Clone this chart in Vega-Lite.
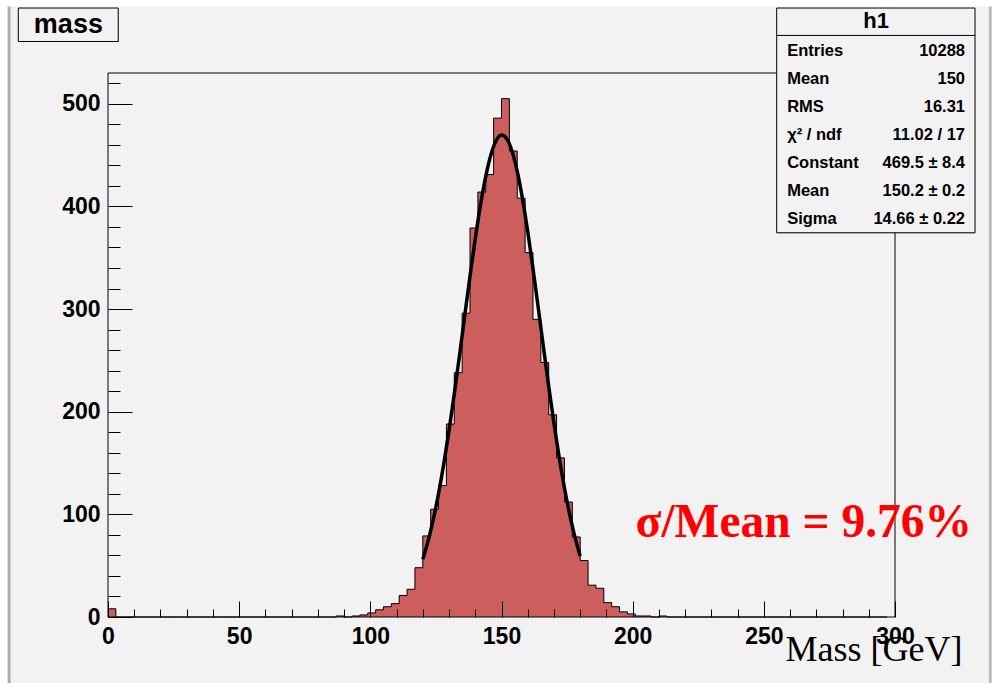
{
  "$schema": "https://vega.github.io/schema/vega-lite/v6.json",
  "width": 787,
  "height": 544,
  "autosize": {"type": "none"},
  "padding": {"left": 108, "top": 73, "right": 101, "bottom": 66},
  "background": "#ffffff",
  "config": {
    "view": {"stroke": null, "fill": null},
    "font": "Liberation Sans",
    "axis": {
      "grid": false,
      "domain": false,
      "labelFont": "Liberation Sans",
      "labelFontWeight": "bold",
      "labelFontSize": 23,
      "labelColor": "#000000",
      "labelFlush": false,
      "labelOverlap": false,
      "tickColor": "#000000",
      "tickWidth": 1
    }
  },
  "datasets": {
    "hist": [
      {"mass": 0, "entries": 8}, {"mass": 3, "entries": 0}, {"mass": 6, "entries": 0}, {"mass": 9, "entries": 0},
      {"mass": 12, "entries": 0}, {"mass": 15, "entries": 0}, {"mass": 18, "entries": 0}, {"mass": 21, "entries": 0},
      {"mass": 24, "entries": 0}, {"mass": 27, "entries": 0}, {"mass": 30, "entries": 0}, {"mass": 33, "entries": 0},
      {"mass": 36, "entries": 0}, {"mass": 39, "entries": 0}, {"mass": 42, "entries": 0}, {"mass": 45, "entries": 0},
      {"mass": 48, "entries": 0}, {"mass": 51, "entries": 0}, {"mass": 54, "entries": 0}, {"mass": 57, "entries": 0},
      {"mass": 60, "entries": 0}, {"mass": 63, "entries": 0}, {"mass": 66, "entries": 0}, {"mass": 69, "entries": 0},
      {"mass": 72, "entries": 0}, {"mass": 75, "entries": 0}, {"mass": 78, "entries": 0}, {"mass": 81, "entries": 0},
      {"mass": 84, "entries": 0}, {"mass": 87, "entries": 1}, {"mass": 90, "entries": 0}, {"mass": 93, "entries": 1},
      {"mass": 96, "entries": 2}, {"mass": 99, "entries": 4}, {"mass": 102, "entries": 7}, {"mass": 105, "entries": 10},
      {"mass": 108, "entries": 13}, {"mass": 111, "entries": 21}, {"mass": 114, "entries": 27}, {"mass": 117, "entries": 48},
      {"mass": 120, "entries": 79}, {"mass": 123, "entries": 105}, {"mass": 126, "entries": 128}, {"mass": 129, "entries": 188},
      {"mass": 132, "entries": 238}, {"mass": 135, "entries": 296}, {"mass": 138, "entries": 379}, {"mass": 141, "entries": 414},
      {"mass": 144, "entries": 431}, {"mass": 147, "entries": 486}, {"mass": 150, "entries": 505}, {"mass": 153, "entries": 454},
      {"mass": 156, "entries": 408}, {"mass": 159, "entries": 355}, {"mass": 162, "entries": 290}, {"mass": 165, "entries": 248},
      {"mass": 168, "entries": 197}, {"mass": 171, "entries": 155}, {"mass": 174, "entries": 112}, {"mass": 177, "entries": 78},
      {"mass": 180, "entries": 55}, {"mass": 183, "entries": 31}, {"mass": 186, "entries": 28}, {"mass": 189, "entries": 14},
      {"mass": 192, "entries": 10}, {"mass": 195, "entries": 5}, {"mass": 198, "entries": 3}, {"mass": 201, "entries": 1},
      {"mass": 204, "entries": 1}, {"mass": 207, "entries": 0}, {"mass": 210, "entries": 1}, {"mass": 213, "entries": 0},
      {"mass": 216, "entries": 0}, {"mass": 219, "entries": 0}, {"mass": 222, "entries": 0}, {"mass": 225, "entries": 0},
      {"mass": 228, "entries": 0}, {"mass": 231, "entries": 0}, {"mass": 234, "entries": 0}, {"mass": 237, "entries": 0},
      {"mass": 240, "entries": 0}, {"mass": 243, "entries": 0}, {"mass": 246, "entries": 0}, {"mass": 249, "entries": 0},
      {"mass": 252, "entries": 0}, {"mass": 255, "entries": 0}, {"mass": 258, "entries": 0}, {"mass": 261, "entries": 0},
      {"mass": 264, "entries": 0}, {"mass": 267, "entries": 0}, {"mass": 270, "entries": 0}, {"mass": 273, "entries": 0},
      {"mass": 276, "entries": 0}, {"mass": 279, "entries": 0}, {"mass": 282, "entries": 0}, {"mass": 285, "entries": 0},
      {"mass": 288, "entries": 0}, {"mass": 291, "entries": 0}, {"mass": 294, "entries": 0}, {"mass": 297, "entries": 0}
    ],
    "fit": [
      {"mass": 120, "gaus": 56.2}, {"mass": 122, "gaus": 73.8}, {"mass": 124, "gaus": 95.1}, {"mass": 126, "gaus": 120.2},
      {"mass": 128, "gaus": 149.2}, {"mass": 130, "gaus": 181.7}, {"mass": 132, "gaus": 217.3}, {"mass": 134, "gaus": 255.0},
      {"mass": 136, "gaus": 293.7}, {"mass": 138, "gaus": 332.1}, {"mass": 140, "gaus": 368.6}, {"mass": 142, "gaus": 401.5},
      {"mass": 144, "gaus": 429.3}, {"mass": 146, "gaus": 450.6}, {"mass": 148, "gaus": 464.2}, {"mass": 150, "gaus": 469.5},
      {"mass": 152, "gaus": 466.0}, {"mass": 154, "gaus": 454.0}, {"mass": 156, "gaus": 434.2}, {"mass": 158, "gaus": 407.5},
      {"mass": 160, "gaus": 375.5}, {"mass": 162, "gaus": 339.6}, {"mass": 164, "gaus": 301.4}, {"mass": 166, "gaus": 262.7},
      {"mass": 168, "gaus": 224.6}, {"mass": 170, "gaus": 188.6}, {"mass": 172, "gaus": 155.4}, {"mass": 174, "gaus": 125.7},
      {"mass": 176, "gaus": 99.8}, {"mass": 178, "gaus": 77.8}, {"mass": 180, "gaus": 59.5}
    ],
    "one": [{}]
  },
  "resolve": {"axis": {"x": "independent", "y": "independent"}},
  "layer": [
    {
      "data": {"name": "one"},
      "mark": {"type": "rect", "fill": "#f2f2f2"},
      "encoding": {
        "x": {"datum": -37.1, "type": "quantitative", "scale": {"domain": [0, 300], "nice": false, "zero": false}, "axis": null},
        "x2": {"datum": 335.5},
        "y": {"datum": 594.8, "type": "quantitative", "scale": {"domain": [0, 530], "nice": false, "zero": false}, "axis": null},
        "y2": {"datum": -71}
      }
    },
    {
      "data": {"name": "one"},
      "mark": {"type": "rule", "stroke": "#acacac", "strokeWidth": 3},
      "encoding": {
        "x": {"datum": -37.7, "type": "quantitative", "axis": null},
        "y": {"datum": 594.8, "type": "quantitative", "axis": null},
        "y2": {"datum": -71}
      }
    },
    {
      "data": {"name": "one"},
      "mark": {"type": "rule", "stroke": "#b8b8b8", "strokeWidth": 3},
      "encoding": {
        "x": {"datum": 336.3, "type": "quantitative", "axis": null},
        "y": {"datum": 594.8, "type": "quantitative", "axis": null},
        "y2": {"datum": -71}
      }
    },
    {
      "data": {"name": "hist"},
      "mark": {"type": "area", "interpolate": "step-after", "fill": "#cd5e5e", "opacity": 1},
      "encoding": {
        "x": {
          "field": "mass", "type": "quantitative",
          "scale": {"domain": [0, 300], "nice": false, "zero": false},
          "axis": {
            "orient": "bottom",
            "zindex": 2,
            "values": [0, 50, 100, 150, 200, 250, 300],
            "tickSize": -16,
            "labelPadding": 24,
            "title": "Mass [GeV]",
            "titleFont": "Liberation Serif",
            "titleFontWeight": "normal",
            "titleFontSize": 36,
            "titleColor": "#000000",
            "titleAlign": "right",
            "titleBaseline": "alphabetic",
            "titleX": 854,
            "titleY": 43
          }
        },
        "y": {
          "field": "entries", "type": "quantitative",
          "scale": {"domain": [0, 530], "nice": false, "zero": false},
          "axis": {
            "orient": "left",
            "zindex": 2,
            "values": [0, 100, 200, 300, 400, 500],
            "tickSize": -24,
            "labelPadding": 32,
            "title": null
          }
        }
      }
    },
    {
      "data": {"name": "hist"},
      "mark": {"type": "line", "interpolate": "step-after", "stroke": "#000000", "strokeWidth": 1},
      "encoding": {
        "x": {
          "field": "mass", "type": "quantitative",
          "axis": {
            "orient": "bottom",
            "zindex": 2,
            "values": [10, 20, 30, 40, 60, 70, 80, 90, 110, 120, 130, 140, 160, 170, 180, 190, 210, 220, 230, 240, 260, 270, 280, 290],
            "tickSize": -8,
            "labels": false,
            "title": null
          }
        },
        "y": {
          "field": "entries", "type": "quantitative",
          "axis": {
            "orient": "left",
            "zindex": 2,
            "values": [20, 40, 60, 80, 120, 140, 160, 180, 220, 240, 260, 280, 320, 340, 360, 380, 420, 440, 460, 480, 520],
            "tickSize": -12,
            "labels": false,
            "title": null
          }
        }
      }
    },
    {
      "data": {"name": "fit"},
      "mark": {"type": "line", "interpolate": "monotone", "stroke": "#000000", "strokeWidth": 3.5},
      "encoding": {
        "x": {"field": "mass", "type": "quantitative", "axis": null},
        "y": {"field": "gaus", "type": "quantitative", "axis": null}
      }
    },
    {
      "data": {"name": "one"},
      "mark": {"type": "rect", "fill": null, "stroke": "#000000", "strokeWidth": 1},
      "encoding": {
        "x": {"datum": 0, "type": "quantitative", "axis": null},
        "x2": {"datum": 300},
        "y": {"datum": 530, "type": "quantitative", "axis": null},
        "y2": {"datum": 0}
      }
    },
    {
      "data": {"name": "one"},
      "mark": {"type": "rect", "fill": "#000000", "xOffset": 2, "yOffset": 2},
      "encoding": {
        "x": {"datum": -34.2, "type": "quantitative", "axis": null},
        "x2": {"datum": 3.9},
        "y": {"datum": 593.3, "type": "quantitative", "axis": null},
        "y2": {"datum": 560.7}
      }
    },
    {
      "data": {"name": "one"},
      "mark": {"type": "rect", "fill": "#f2f2f2", "stroke": "#000000", "strokeWidth": 1},
      "encoding": {
        "x": {"datum": -34.2, "type": "quantitative", "axis": null},
        "x2": {"datum": 3.9},
        "y": {"datum": 593.3, "type": "quantitative", "axis": null},
        "y2": {"datum": 560.7}
      }
    },
    {
      "data": {"name": "one"},
      "mark": {"type": "text", "text": "mass", "font": "Liberation Sans", "fontWeight": "bold", "fontSize": 27, "align": "center", "baseline": "alphabetic", "color": "#000000"},
      "encoding": {
        "x": {"datum": -15.1, "type": "quantitative", "axis": null},
        "y": {"datum": 568.7, "type": "quantitative", "axis": null}
      }
    },
    {
      "data": {"name": "one"},
      "mark": {"type": "rect", "fill": "#000000", "xOffset": 2, "yOffset": 2},
      "encoding": {
        "x": {"datum": 254.9, "type": "quantitative", "axis": null},
        "x2": {"datum": 330.5},
        "y": {"datum": 593.3, "type": "quantitative", "axis": null},
        "y2": {"datum": 374.3}
      }
    },
    {
      "data": {"name": "one"},
      "mark": {"type": "rect", "fill": "#f2f2f2", "stroke": "#000000", "strokeWidth": 1},
      "encoding": {
        "x": {"datum": 254.9, "type": "quantitative", "axis": null},
        "x2": {"datum": 330.5},
        "y": {"datum": 593.3, "type": "quantitative", "axis": null},
        "y2": {"datum": 374.3}
      }
    },
    {
      "data": {"name": "one"},
      "mark": {"type": "rule", "stroke": "#000000", "strokeWidth": 1},
      "encoding": {
        "x": {"datum": 254.9, "type": "quantitative", "axis": null},
        "x2": {"datum": 330.5},
        "y": {"datum": 566.6, "type": "quantitative", "axis": null}
      }
    },
    {
      "data": {"name": "one"},
      "mark": {"type": "text", "text": "h1", "font": "Liberation Sans", "fontWeight": "bold", "fontSize": 22, "align": "center", "baseline": "middle", "color": "#000000"},
      "encoding": {
        "x": {"datum": 292.8, "type": "quantitative", "axis": null},
        "y": {"datum": 580.3, "type": "quantitative", "axis": null}
      }
    },
    {
      "data": {"name": "one"},
      "mark": {
        "type": "text",
        "text": ["Entries", "Mean", "RMS", "χ² / ndf", "Constant", "Mean", "Sigma"],
        "font": "Liberation Sans", "fontWeight": "bold", "fontSize": 16.5, "lineHeight": 28,
        "align": "left", "baseline": "middle", "color": "#000000"
      },
      "encoding": {
        "x": {"datum": 258.9, "type": "quantitative", "axis": null},
        "y": {"datum": 551.7, "type": "quantitative", "axis": null}
      }
    },
    {
      "data": {"name": "one"},
      "mark": {
        "type": "text",
        "text": ["10288", "150", "16.31", "11.02 / 17", "469.5 ± 8.4", "150.2 ± 0.2", "14.66 ± 0.22"],
        "font": "Liberation Sans", "fontWeight": "bold", "fontSize": 16.5, "lineHeight": 28,
        "align": "right", "baseline": "middle", "color": "#000000"
      },
      "encoding": {
        "x": {"datum": 326.7, "type": "quantitative", "axis": null},
        "y": {"datum": 551.7, "type": "quantitative", "axis": null}
      }
    },
    {
      "data": {"name": "one"},
      "mark": {"type": "text", "text": "σ/Mean = 9.76%", "font": "Liberation Serif", "fontWeight": "bold", "fontSize": 47.5, "align": "right", "baseline": "alphabetic", "color": "#ff0000"},
      "encoding": {
        "x": {"datum": 329.4, "type": "quantitative", "axis": null},
        "y": {"datum": 78, "type": "quantitative", "axis": null}
      }
    }
  ]
}
